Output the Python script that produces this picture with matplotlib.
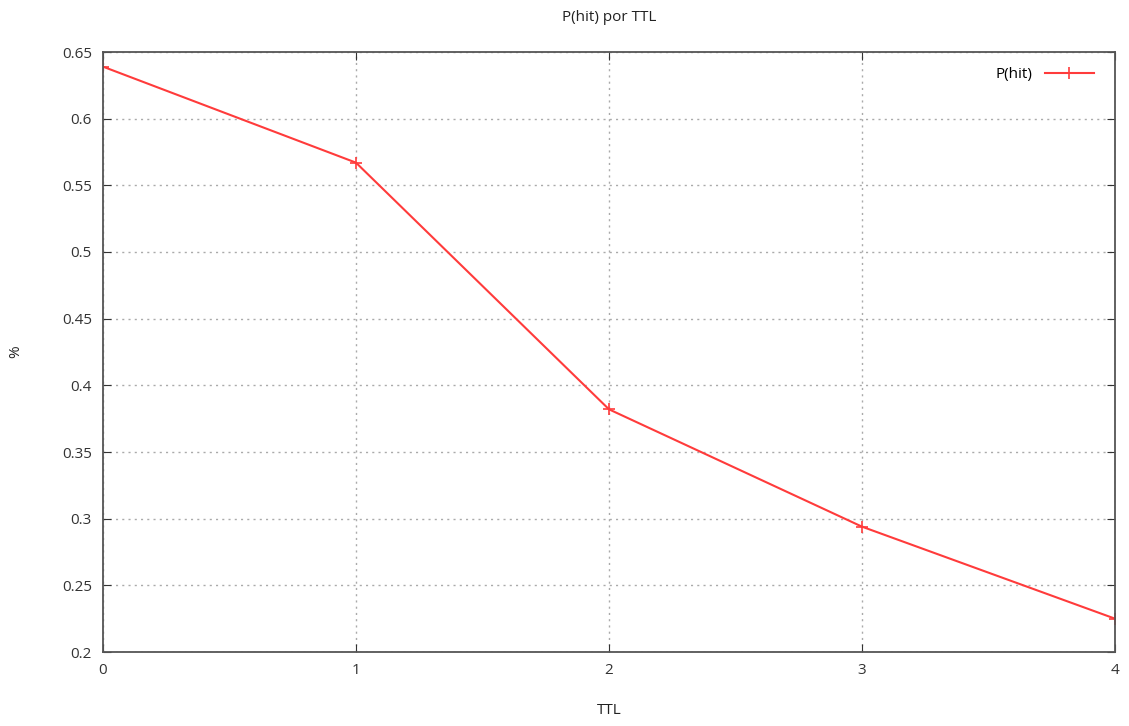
import matplotlib
matplotlib.use("Agg")
import matplotlib.pyplot as plt

ttl = [0, 1, 2, 3, 4]
p_hit = [0.639, 0.567, 0.382, 0.294, 0.225]
xticks = [0, 1, 2, 3, 4]
yticks = [0.2, 0.25, 0.3, 0.35, 0.4, 0.45, 0.5, 0.55, 0.6, 0.65]
ytick_labels = ["0.2", "0.25", "0.3", "0.35", "0.4", "0.45", "0.5", "0.55", "0.6", "0.65"]

plt.rcParams['font.family'] = ['Open Sans', 'DejaVu Sans']
fig = plt.figure(figsize=(11.29, 7.26), dpi=100)
ax = fig.add_axes([103/1129, 74/726, (1115-103)/1129, (652-52)/726])

ax.plot(ttl, p_hit, color='#ff3b3b', lw=1.5, marker='+', ms=8, mew=1.2, label='P(hit)')

ax.set_xlim(0, 4)
ax.set_ylim(0.2, 0.65)
ax.set_xticks(xticks)
ax.set_yticks(yticks)
ax.set_yticklabels(ytick_labels)
ax.tick_params(direction='in', top=True, right=True, length=6, labelsize=11, colors='#333333', pad=8)
ax.grid(True, linestyle=(0, (1.5, 3)), color='#aaaaaa', lw=1)
for s in ax.spines.values():
    s.set_color('#555555')
    s.set_linewidth(1.3)

ax.set_title('P(hit) por TTL', fontsize=11, color='#222222', pad=22)
ax.set_xlabel('TTL', fontsize=11, color='#222222', labelpad=18)
ax.set_ylabel('%', fontsize=11, color='#222222', labelpad=28)

leg = ax.legend(loc='upper right', bbox_to_anchor=(0.994, 1.0), frameon=False, fontsize=11,
                markerfirst=False, handlelength=3.2, borderaxespad=0.6)

fig.savefig('out.png', dpi=100)
